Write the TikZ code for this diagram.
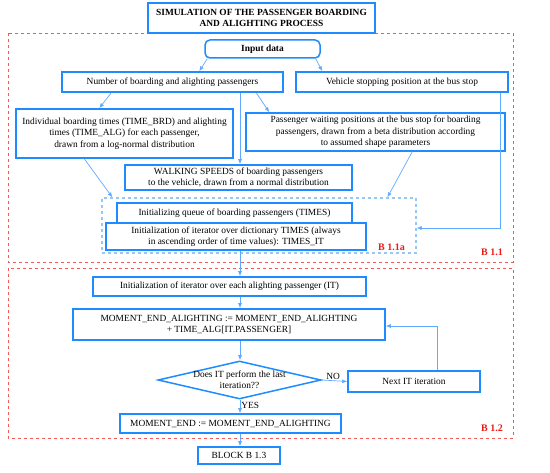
\documentclass[tikz,border=0pt]{standalone}
\usepackage{fontspec}
\setmainfont{Liberation Serif}
\usetikzlibrary{arrows.meta,shapes.geometric,calc,fit}
\definecolor{boxcol}{RGB}{30,140,255}
\definecolor{arrcol}{RGB}{95,170,255}
\definecolor{dashblue}{RGB}{150,200,245}
\definecolor{dashred}{RGB}{240,90,90}
\definecolor{labred}{RGB}{235,25,25}
\newcommand{\fsz}{\fontsize{9.4}{11.5}\selectfont}
\tikzset{
  box/.style={draw=boxcol, line width=1.5pt, inner sep=1pt, align=center, font=\fsz},
  arr/.style={draw=arrcol, line width=0.7pt, -{Latex[length=5pt,width=4pt]}},
  redbox/.style={draw=dashred, line width=0.8pt, dash pattern=on 3pt off 3pt},
  bluebox/.style={draw=dashblue, line width=1.2pt, dash pattern=on 3pt off 3pt},
  blab/.style={text=labred, font=\fontsize{10}{12}\selectfont\bfseries, inner sep=0pt},
  yn/.style={font=\fsz, inner sep=1pt}
}
\begin{document}
\begin{tikzpicture}[x=1pt,y=-1pt]
\useasboundingbox (0,0) rectangle (550,473);
% dashed blocks
\draw[redbox] (8,33) rectangle (513,262);
\draw[redbox] (8,268) rectangle (513,438);
\node[bluebox, minimum width=314pt, minimum height=55pt, inner sep=0pt] (blk) at (259,225.5) {};
\coordinate (axis) at (240,0);
% nodes
\node[box, minimum width=227pt, minimum height=30pt, font=\fsz\bfseries] (title) at (261.5,18) {SIMULATION OF THE PASSENGER BOARDING\\AND ALIGHTING PROCESS};
\node[box, rounded corners=5pt, minimum width=115pt, minimum height=18pt, font=\fsz\bfseries] (input) at (262.5,49) {Input data};
\node[box, minimum width=221pt, minimum height=20pt] (number) at (172.5,82) {Number of boarding and alighting passengers};
\node[box, minimum width=212pt, minimum height=20pt] (vehicle) at (402,82) {Vehicle stopping position at the bus stop};
\node[box, minimum width=217pt, minimum height=49pt] (indiv) at (124.5,133.5) {Individual boarding times (TIME\_BRD) and alighting\\times (TIME\_ALG) for each passenger,\\drawn from a log-normal distribution};
\node[box, minimum width=259pt, minimum height=38pt] (waiting) at (375.5,132) {Passenger waiting positions at the bus stop for boarding\\passengers, drawn from a beta distribution according\\to assumed shape parameters};
\node[box, minimum width=227pt, minimum height=25pt] (walking) at (238.5,177.5) {WALKING SPEEDS of boarding passengers\\to the vehicle, drawn from a normal distribution};
\node[box, minimum width=235pt, minimum height=20pt] (queue) at (234.5,213) {Initializing queue of boarding passengers (TIMES)};
\node[box, minimum width=260pt, minimum height=27pt] (iter) at (236,236.5) {Initialization of iterator over dictionary TIMES (always\\in ascending order of time values): TIMES\_IT};
\node[box, minimum width=273pt, minimum height=19pt] (initit) at (229.5,286.5) {Initialization of iterator over each alighting passenger (IT)};
\node[box, minimum width=312pt, minimum height=31pt] (moment) at (229,324.5) {MOMENT\_END\_ALIGHTING := MOMENT\_END\_ALIGHTING\\+ TIME\_ALG[IT.PASSENGER]};
\node[draw=boxcol, line width=1.5pt, diamond, aspect=4.3, minimum width=163pt, minimum height=38pt, inner sep=0pt] (dia) at (239.5,380) {};
\node[font=\fsz, align=center, inner sep=0pt] (diatext) at (239.5,380) {Does IT perform the last\\iteration??};
\node[box, minimum width=132pt, minimum height=21pt] (next) at (414,381.5) {Next IT iteration};
\node[box, minimum width=221pt, minimum height=19pt] (mend) at (230.5,423.5) {MOMENT\_END := MOMENT\_END\_ALIGHTING};
\node[box, minimum width=82pt, minimum height=17pt] (block) at (239,455.5) {BLOCK B 1.3};
% labels
\node[blab, anchor=base east] (l11a) at (405,251) {B 1.1a};
\node[blab, anchor=base east] (l11) at (503,256) {B 1.1};
\node[blab, anchor=base east] (l12) at (503,432) {B 1.2};
% connectors
\draw[arr] ($(input.south west)+(3,0)$) -- ($(number.north west)+(138,0)$);
\draw[arr] ($(input.south east)+(-5,0)$) -- ($(vehicle.north west)+(27,0)$);
\draw[arr] ($(number.south west)+(50,0)$) -- ($(indiv.north west)+(84,0)$);
\draw[arr] ($(number.south west)+(195,0)$) -- ($(waiting.north west)+(24,0)$);
\draw[arr] (number.south -| axis) -- (walking.north -| axis);
\draw[arr] ($(vehicle.south east)+(-8,0)$) |- ($(blk.east)+(0,2.5)$);
\draw[arr] ($(indiv.south west)+(69,0)$) -- ($(blk.north west)+(11,0)$);
\draw[arr] ($(waiting.south west)+(167,0)$) -- ($(blk.north west)+(286,0)$);
\draw[arr] (iter.south -| axis) -- (initit.north -| axis);
\draw[arr] (initit.south -| axis) -- (moment.north -| axis);
\draw[arr] (moment.south -| axis) -- (dia.north -| axis);
\draw[arr] (dia.east) -- node[yn, above, pos=0.45] (no) {NO} (next.west);
\draw[arr] ($(next.north west)+(90,0)$) |- ($(moment.east)+(0,1.5)$);
\draw[arr] (dia.south -| axis) -- node[yn, right, pos=0.45] (yes) {YES} (mend.north -| axis);
\draw[arr] (mend.south -| axis) -- (block.north -| axis);
\end{tikzpicture}
\end{document}
